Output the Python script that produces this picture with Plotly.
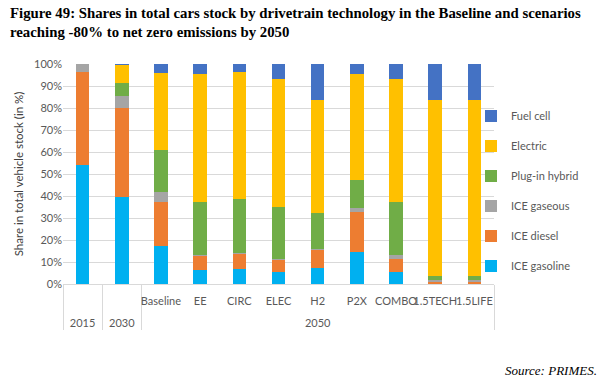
import plotly.graph_objects as go

years = ["2015", "2030", "2050", "2050", "2050", "2050", "2050", "2050", "2050", "2050", "2050"]
scenarios = [" ", "  ", "Baseline", "EE", "CIRC", "ELEC", "H2", "P2X", "COMBO", "1.5TECH", "1.5LIFE"]

ice_gasoline = [54.0, 39.6, 17.5, 6.2, 6.8, 5.6, 7.4, 14.4, 5.6, 0.3, 0.3]
ice_diesel = [42.2, 40.5, 20.0, 6.6, 6.9, 5.7, 8.2, 18.4, 5.7, 0.6, 0.6]
ice_gaseous = [3.8, 5.3, 4.2, 0.2, 0.2, 0.2, 0.2, 1.8, 1.7, 1.0, 1.0]
plugin_hybrid = [0.0, 6.0, 19.0, 24.5, 24.8, 23.7, 16.5, 12.7, 24.2, 1.8, 1.8]
electric = [0.0, 8.3, 35.2, 58.0, 57.5, 58.0, 51.4, 48.3, 56.0, 80.0, 80.0]
fuel_cell = [0.0, 0.3, 4.1, 4.5, 3.8, 6.8, 16.3, 4.4, 6.8, 16.3, 16.3]

series = [
    ("ICE gasoline", ice_gasoline, "#00B0F0"),
    ("ICE diesel", ice_diesel, "#ED7D31"),
    ("ICE gaseous", ice_gaseous, "#A5A5A5"),
    ("Plug-in hybrid", plugin_hybrid, "#70AD47"),
    ("Electric", electric, "#FFC000"),
    ("Fuel cell", fuel_cell, "#4472C4"),
]

# inner labels get a blank second line so the year row sits lower, as in the reference
inner_labels = [s + "<br> " for s in scenarios]

fig = go.Figure()
n = len(series)
for i, (name, vals, col) in enumerate(series):
    fig.add_trace(go.Bar(
        x=[years, inner_labels], y=vals, name=name,
        marker=dict(color=col, line=dict(width=0)),
        legendgroup=str(i), legendrank=n - i,
    ))

axis_font = dict(family="Lato, Liberation Sans, sans-serif", size=11, color="#595959")
PW = 431.0
PH = 220.0

fig.update_layout(
    width=605, height=384,
    barmode="stack", bargap=0.655,
    paper_bgcolor="white", plot_bgcolor="white",
    margin=dict(l=63, r=111, t=64, b=100, autoexpand=False),
    annotations=[
        dict(
            text="<b>Figure 49: Shares in total cars stock by drivetrain technology in the Baseline and scenarios<br>reaching -80% to net zero emissions by 2050</b>",
            xref="paper", yref="paper",
            x=-55 / PW, xanchor="left", y=(284 - 3) / PH, yanchor="top",
            align="left", showarrow=False,
            font=dict(family="Liberation Serif, Times New Roman, serif", size=14.8, color="black"),
        ),
        dict(
            text="<i>Source: PRIMES.</i>", xref="paper", yref="paper",
            x=(599 - 63) / PW, xanchor="right", y=-(370 - 284) / PH, yanchor="middle",
            showarrow=False,
            font=dict(family="Liberation Serif, Times New Roman, serif", size=13, color="black"),
        ),
    ],
    legend=dict(
        x=(471 - 63) / PW, xanchor="left", y=(284 - 191) / PH, yanchor="middle",
        traceorder="grouped", tracegroupgap=11,
        font=axis_font, bgcolor="rgba(0,0,0,0)",
        itemwidth=30,
    ),
    showlegend=True,
    xaxis=dict(
        type="multicategory", automargin=False, tickangle=0,
        showdividers=True, dividercolor="#d9d9d9", dividerwidth=1,
        showline=True, linecolor="#d9d9d9", linewidth=1,
        ticks="", tickfont=axis_font, showgrid=False,
        ticklabelstandoff=7,
    ),
    yaxis=dict(
        range=[0, 100], dtick=10, ticksuffix="%", automargin=False,
        showgrid=True, gridcolor="#d9d9d9", gridwidth=1,
        zeroline=False, showline=False, ticks="",
        tickfont=axis_font,
        title=dict(text="Share in total vehicle stock (in %)",
                   font=dict(family="Lato, Liberation Sans, sans-serif", size=11.5, color="#404040"),
                   standoff=8),
    ),
)

fig.write_html(
    "out.html",
    config={"displayModeBar": False},
    post_script="document.body.style.margin='0';document.body.style.overflow='hidden';",
)
